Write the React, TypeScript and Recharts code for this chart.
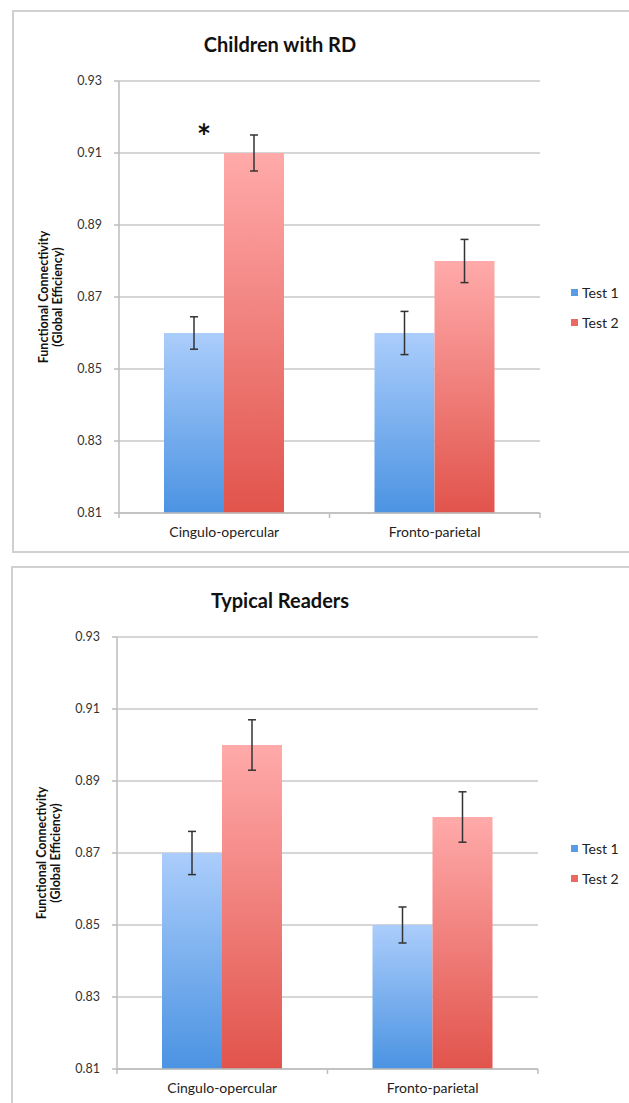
import React from 'react';
import { BarChart, Bar, XAxis, YAxis, CartesianGrid, Legend, ErrorBar, LabelList } from 'recharts';

const categories = ['Cingulo-opercular', 'Fronto-parietal'];
const yTicks = [0.81, 0.83, 0.85, 0.87, 0.89, 0.91, 0.93];

// Children with RD
const rdTest1 = [0.86, 0.86];
const rdTest1Err = [0.0045, 0.006];
const rdTest2 = [0.91, 0.88];
const rdTest2Err = [0.005, 0.006];
const rdSig = ['*', ''];

// Typical Readers
const trTest1 = [0.87, 0.85];
const trTest1Err = [0.006, 0.005];
const trTest2 = [0.9, 0.88];
const trTest2Err = [0.007, 0.007];
const trSig = ['', ''];

const font = 'Lato, "Open Sans", sans-serif';
const BLUE = '#5a9be6';
const RED = '#ea6a62';
const AXIS = '#bdbdbd';

const TICK_SIZE = 6;
const TICK_MARGIN = 8;

const buildRows = (t1: number[], e1: number[], t2: number[], e2: number[], sig: string[]) =>
  categories.map((name, i) => ({ name, t1: t1[i], e1: e1[i], t2: t2[i], e2: e2[i], sig: sig[i] }));

const Asterisk = (props: any) => {
  const { x, y, value } = props;
  if (!value) return null;
  return (
    <text x={x - 20} y={y - 4} textAnchor="middle" fontSize={34} fontWeight={700} fill="#111" fontFamily={font}>
      {value}
    </text>
  );
};

// category label plus tick marks on the band edges
const CategoryTick = (props: any) => {
  const { x, y, payload, index, visibleTicksCount } = props;
  const axisY = y - TICK_SIZE - TICK_MARGIN;
  const off = payload.offset || 0;
  const last = index === visibleTicksCount - 1;
  return (
    <g>
      <line x1={x - off} x2={x - off} y1={axisY} y2={axisY + 5} stroke={AXIS} strokeWidth={1.5} />
      {last && <line x1={x + off} x2={x + off} y1={axisY} y2={axisY + 5} stroke={AXIS} strokeWidth={1.5} />}
      <text x={x} y={y} dy="0.71em" textAnchor="middle" fontSize={14} fill="#222" fontFamily={font}>
        {payload.value}
      </text>
    </g>
  );
};

const YTitle = (props: any) => {
  const { viewBox } = props;
  const cy = viewBox.y + viewBox.height / 2;
  const x1 = viewBox.x + 48;
  const x2 = viewBox.x + 62;
  return (
    <g fontFamily={font} fontSize={12.5} fontWeight={700} fill="#111" textAnchor="middle">
      <text x={x1} y={cy} transform={`rotate(-90, ${x1}, ${cy})`}>Functional Connectivity</text>
      <text x={x2} y={cy} transform={`rotate(-90, ${x2}, ${cy})`}>(Global Efficiency)</text>
    </g>
  );
};

const swatch: Record<string, string> = { t1: BLUE, t2: RED };

const LegendBox = (props: any) => {
  const { payload } = props;
  return (
    <div style={{ fontFamily: font, fontSize: 14, color: '#222' }}>
      {(payload || []).map((p: any, i: number) => (
        <div key={i} style={{ display: 'flex', alignItems: 'center', height: 30 }}>
          <span style={{ width: 7, height: 7, background: swatch[p.dataKey], marginRight: 4, display: 'inline-block' }} />
          <span>{p.value}</span>
        </div>
      ))}
    </div>
  );
};

type PanelProps = {
  title: string;
  rows: any[];
  top: number;
  boxTop: number;
  boxLeft: number;
  boxHeight: number;
  left: number;
  id: string;
};

const Panel = ({ title, rows, top, boxTop, boxLeft, boxHeight, left, id }: PanelProps) => (
  <>
    <div
      style={{
        position: 'absolute',
        top: boxTop,
        left: boxLeft,
        width: 700,
        height: boxHeight,
        border: '2px solid #d0d0d0',
        boxSizing: 'border-box',
        background: '#fff',
      }}
    />
    <div
      style={{
        position: 'absolute',
        top: top + 32,
        left: 180,
        width: 200,
        textAlign: 'center',
        fontFamily: font,
        fontWeight: 700,
        fontSize: 20,
        color: '#111',
      }}
    >
      {title}
    </div>
    <div style={{ position: 'absolute', top, left: 0 }}>
      <BarChart
        width={629}
        height={547}
        data={rows}
        margin={{ top: 81, right: 629 - (left + 421), left: left - 119, bottom: 4 }}
        barGap={0}
        barSize={60}
      >
        <defs>
          <linearGradient id={`blue-${id}`} x1="0" y1="0" x2="0" y2="1">
            <stop offset="0%" stopColor="#abcdfb" />
            <stop offset="100%" stopColor="#4b93e2" />
          </linearGradient>
          <linearGradient id={`red-${id}`} x1="0" y1="0" x2="0" y2="1">
            <stop offset="0%" stopColor="#ffaaaa" />
            <stop offset="100%" stopColor="#e1544c" />
          </linearGradient>
        </defs>
        <CartesianGrid vertical={false} stroke="#c8c8c8" strokeWidth={1.5} />
        <XAxis
          dataKey="name"
          axisLine={{ stroke: AXIS, strokeWidth: 1.5 }}
          tickLine={false}
          tickSize={TICK_SIZE}
          tickMargin={TICK_MARGIN}
          tick={<CategoryTick />}
          interval={0}
          height={30}
        />
        <YAxis
          domain={[0.81, 0.93]}
          ticks={yTicks}
          interval={0}
          width={119}
          tickFormatter={(v: number) => v.toFixed(2)}
          axisLine={{ stroke: AXIS, strokeWidth: 1.5 }}
          tickLine={{ stroke: AXIS, strokeWidth: 1.5 }}
          tickSize={5}
          tickMargin={12}
          tick={{ fill: '#333', fontSize: 12.5, fontFamily: font }}
          label={<YTitle />}
        />
        <Legend
          layout="vertical"
          align="center"
          verticalAlign="middle"
          content={<LegendBox />}
          wrapperStyle={{ position: 'absolute', left: 571, top: 277, width: 60 }}
        />
        <Bar dataKey="t1" name="Test 1" fill={`url(#blue-${id})`} isAnimationActive={false}>
          <ErrorBar dataKey="e1" width={4} stroke="#333" strokeWidth={1.5} direction="y" />
        </Bar>
        <Bar dataKey="t2" name="Test 2" fill={`url(#red-${id})`} isAnimationActive={false}>
          <ErrorBar dataKey="e2" width={4} stroke="#333" strokeWidth={1.5} direction="y" />
          <LabelList dataKey="sig" content={<Asterisk />} />
        </Bar>
      </BarChart>
    </div>
  </>
);

export default function App() {
  const rdRows = buildRows(rdTest1, rdTest1Err, rdTest2, rdTest2Err, rdSig);
  const trRows = buildRows(trTest1, trTest1Err, trTest2, trTest2Err, trSig);
  return (
    <div style={{ position: 'absolute', top: 0, left: 0, width: 629, height: 1103, overflow: 'hidden', background: '#fff' }}>
      <Panel id="rd" title="Children with RD" rows={rdRows} top={0} boxTop={10} boxLeft={12} boxHeight={543} left={119} />
      <Panel id="tr" title="Typical Readers" rows={trRows} top={556} boxTop={566} boxLeft={11} boxHeight={560} left={117} />
    </div>
  );
}
